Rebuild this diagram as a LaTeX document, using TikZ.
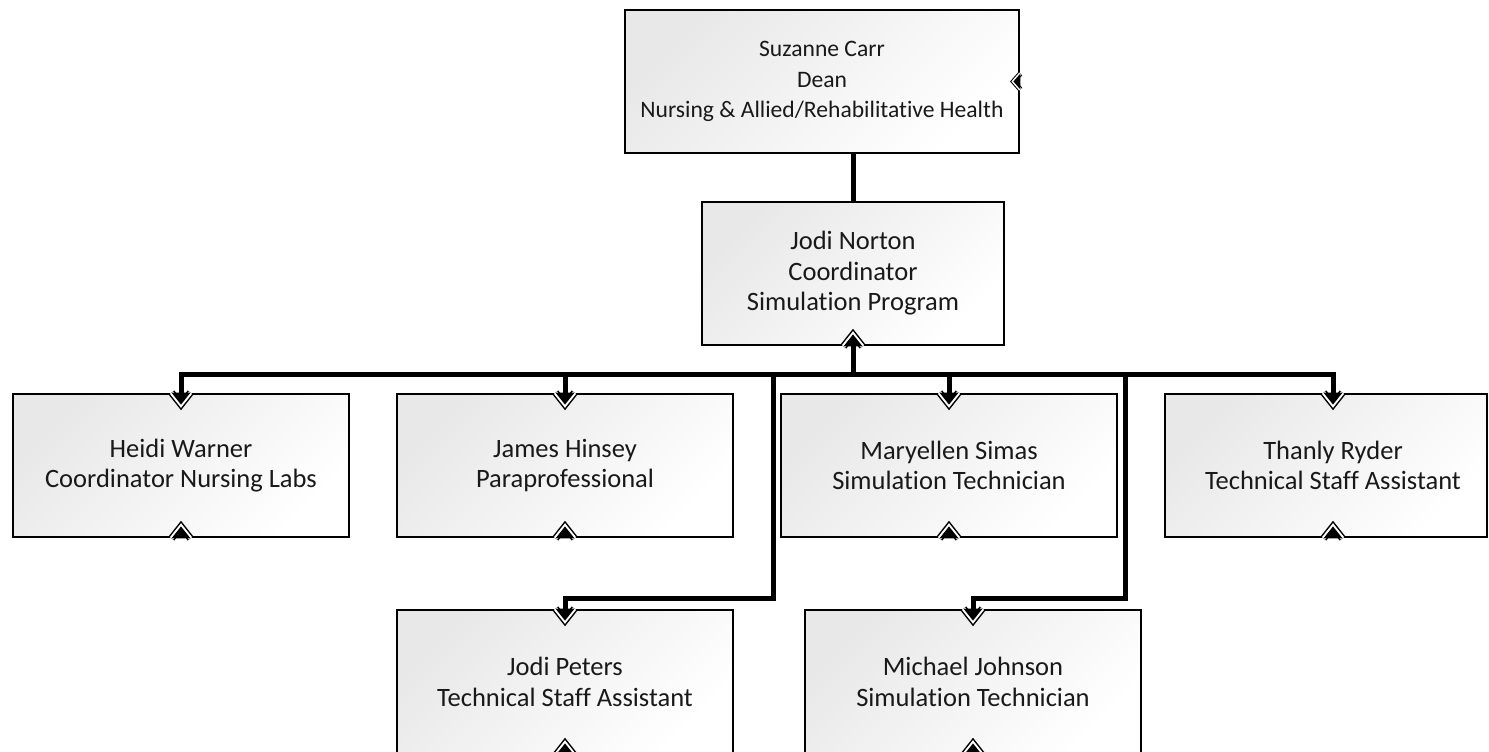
\documentclass[tikz,border=0pt]{standalone}
\usepackage{fontspec}
\setmainfont{Carlito}[Ligatures=NoCommon]
\begin{document}
\begin{tikzpicture}[x=1pt,y=-1pt,
  box/.style={draw=black, line width=2.8pt, top color=black!9, bottom color=white, shading angle=45,
    align=center, font=\fontsize{26.5}{30.5}\selectfont, inner sep=0pt, text=black!90},
  conn/.style={line width=5pt, line join=miter},
  row/.style={box, minimum width=336pt, minimum height=143pt},
  low/.style={box, minimum width=336pt, minimum height=144pt},
  markdown/.pic={
    \draw[line width=7pt, miter limit=20] (-9.5,0) -- (0,12) -- (9.5,0);
    \draw[white, line width=4pt, miter limit=20] (-9.5,0) -- (0,12) -- (9.5,0);
    \fill[black] (-9.5,0) -- (0,12) -- (9.5,0) -- cycle;
  },
  markup/.pic={
    \draw[line width=7pt, miter limit=20] (-9.5,0) -- (0,-12) -- (9.5,0);
    \draw[white, line width=4pt, miter limit=20] (-9.5,0) -- (0,-12) -- (9.5,0);
    \fill[black] (-9.5,0) -- (0,-12) -- (9.5,0) -- cycle;
  },
  markleft/.pic={
    \draw[line width=5pt, miter limit=20] (0,-8) -- (-7,0) -- (0,8);
    \draw[white, line width=3pt, miter limit=20] (0,-8) -- (-7,0) -- (0,8);
    \fill[black] (0,-8) -- (-7,0) -- (0,8) -- cycle;
  }
]
\useasboundingbox (0,0) rectangle (1489,752);

% nodes
\node[box, minimum width=394pt, minimum height=143pt, font=\fontsize{23.6}{30.5}\selectfont] (dean) at (822,81.5)
  {Suzanne Carr\\Dean\\Nursing \& Allied/Rehabilitative Health};
\node[box, minimum width=302pt, minimum height=143pt] (norton) at (853,273.5)
  {Jodi Norton\\Coordinator\\Simulation Program};
\node[row] (heidi) at (181,465.5) {Heidi Warner\\Coordinator Nursing Labs};
\node[row] (james) at (565,465.5) {James Hinsey\\Paraprofessional};
\node[row] (maryellen) at (949,465.5) {Maryellen Simas\\Simulation Technician};
\node[box, minimum width=322pt, minimum height=143pt] (thanly) at (1326,465.5)
  {\hspace*{14pt}Thanly Ryder\\\hspace*{14pt}Technical Staff Assistant};
\node[low] (jodip) at (565,682) {Jodi Peters\\Technical Staff Assistant};
\node[low] (michael) at (973,682) {Michael Johnson\\Simulation Technician};

% connectors
\coordinate (bus) at (853,374);
\coordinate (jbend) at (773,598);
\coordinate (mbend) at (1125,598);
\draw[conn] (norton.north |- dean.south) -- (norton.north);
\draw[conn] (norton.south) -- (bus);
\draw[conn] (bus) -| (heidi.north);
\draw[conn] (bus) -| (james.north);
\draw[conn] (bus) -| (maryellen.north);
\draw[conn] (bus) -| ([xshift=7pt]thanly.north);
\draw[conn] (bus) -| (jbend) -| (jodip.north);
\draw[conn] (bus) -| (mbend) -| (michael.north);

% markers
\pic at (heidi.north) {markdown};
\pic at (james.north) {markdown};
\pic at (maryellen.north) {markdown};
\pic at ([xshift=7pt]thanly.north) {markdown};
\pic at (jodip.north) {markdown};
\pic at (michael.north) {markdown};
\pic at (norton.south) {markup};
\pic at (heidi.south) {markup};
\pic at (james.south) {markup};
\pic at (maryellen.south) {markup};
\pic at ([xshift=7pt]thanly.south) {markup};
\pic at (jodip.south) {markup};
\pic at (michael.south) {markup};
\pic at (dean.east) {markleft};
\end{tikzpicture}
\end{document}
